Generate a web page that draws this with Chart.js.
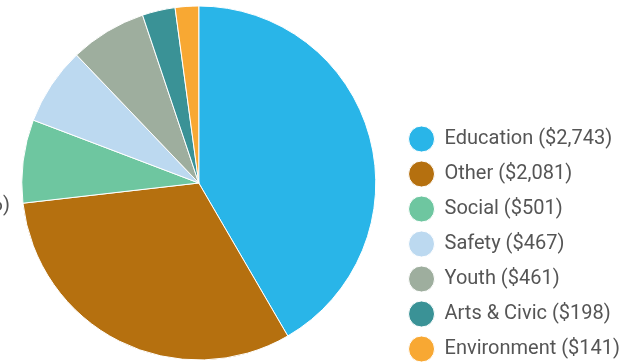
<!DOCTYPE html>
<html>
<head>
<meta charset="utf-8">
<script src="https://cdn.jsdelivr.net/npm/chart.js@4.4.1/dist/chart.umd.min.js"></script>
<style>
  html, body { margin: 0; padding: 0; background: #fff; }
  #wrap { position: relative; width: 619px; height: 362px; overflow: hidden; }
  #wrap canvas { position: absolute; left: 0; top: -8px; }
</style>
</head>
<body>
<div id="wrap"><canvas id="pieChart" width="630" height="382"></canvas></div>
<script>
// Data
const categories = ['Education', 'Other', 'Social', 'Safety', 'Youth', 'Arts & Civic', 'Environment'];
const amounts = [2743, 2081, 501, 467, 461, 198, 141];
const sliceColors = ['#29b5e8', '#b5700f', '#6ec6a0', '#bcd9f0', '#9eae9e', '#3a9296', '#f8a833'];

const labelFont = "'Liberation Sans Narrow', 'Roboto', sans-serif";

function money(v) {
  return '$' + v.toLocaleString('en-US');
}

// cut-off label at the left edge
const edgeText = {
  id: 'edgeText',
  afterDraw(chart) {
    const ctx = chart.ctx;
    ctx.save();
    ctx.font = '20px ' + labelFont;
    ctx.fillStyle = '#555';
    ctx.textAlign = 'right';
    ctx.textBaseline = 'middle';
    ctx.fillText('6)', 10, 214);
    ctx.restore();
  }
};

new Chart(document.getElementById('pieChart'), {
  type: 'pie',
  data: {
    labels: categories,
    datasets: [{
      data: amounts,
      backgroundColor: sliceColors,
      borderColor: '#fff',
      borderWidth: 1,
      radius: 177
    }]
  },
  options: {
    responsive: false,
    animation: false,
    layout: { padding: { left: 4, right: 0 } },
    plugins: {
      tooltip: { enabled: false },
      legend: {
        position: 'right',
        align: 'end',
        labels: {
          usePointStyle: true,
          pointStyle: 'circle',
          pointStyleWidth: 26,
          boxHeight: 18.4,
          padding: 15,
          color: '#555',
          font: { family: labelFont, size: 20 },
          generateLabels(chart) {
            const items = Chart.overrides.pie.plugins.legend.labels.generateLabels(chart);
            items.forEach((it, i) => { it.text = categories[i] + ' (' + money(amounts[i]) + ')'; });
            return items;
          }
        }
      }
    }
  },
  plugins: [edgeText]
});
</script>
</body>
</html>
